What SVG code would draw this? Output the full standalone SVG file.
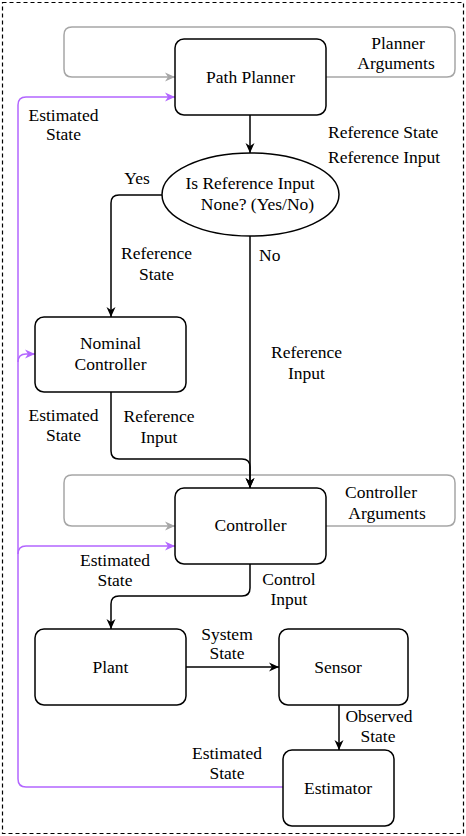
<svg xmlns="http://www.w3.org/2000/svg" width="466" height="836" viewBox="0 0 466 836">
<style>
text{font-family:'Liberation Serif','Times New Roman',serif;font-size:17.5px;fill:#000;text-anchor:middle}
.box{fill:#fff;stroke:#000;stroke-width:1.5}
.k{fill:none;stroke:#000;stroke-width:1.5}
.g{fill:none;stroke:#a6a6a6;stroke-width:1.5}
.p{fill:none;stroke:#b266ff;stroke-width:1.5}
</style>
<defs>
<marker id="ak" viewBox="0 0 10 10" refX="10" refY="5" markerWidth="10" markerHeight="10" markerUnits="userSpaceOnUse" orient="auto"><path d="M0,0.5L10,5L0,9.5L3,5z" fill="#000"/></marker>
<marker id="ag" viewBox="0 0 10 10" refX="10" refY="5" markerWidth="10" markerHeight="10" markerUnits="userSpaceOnUse" orient="auto"><path d="M0,0.5L10,5L0,9.5L3,5z" fill="#a6a6a6"/></marker>
<marker id="ap" viewBox="0 0 10 10" refX="10" refY="5" markerWidth="10" markerHeight="10" markerUnits="userSpaceOnUse" orient="auto"><path d="M0,0.5L10,5L0,9.5L3,5z" fill="#b266ff"/></marker>
</defs>
<rect x="2.5" y="2.5" width="461" height="831" fill="#fff" stroke="#000" stroke-width="1.2" stroke-dasharray="4,3"/>
<g id="connectors">
<path class="g" d="M326,77L447,77Q455,77 455,69L455,35Q455,27 447,27L72,27Q64,27 64,35L64,69Q64,77 72,77L175,77" marker-end="url(#ag)"/>
<path class="g" d="M326,526L447,526Q455,526 455,518L455,483Q455,475 447,475L72,475Q64,475 64,483L64,518Q64,526 72,526L175,526" marker-end="url(#ag)"/>
<path class="p" d="M283,787L26,787Q18,787 18,779L18,105Q18,97 26,97L175,97" marker-end="url(#ap)"/>
<path class="p" d="M18,554Q18,546 26,546L175,546" marker-end="url(#ap)"/>
<path class="p" d="M18,362Q18,354 26,354L35,354" marker-end="url(#ap)"/>
<path class="k" d="M250,115L250,153" marker-end="url(#ak)"/>
<path class="k" d="M162,195L119,195Q111,195 111,203L111,317" marker-end="url(#ak)"/>
<path class="k" d="M250,236L250,488" marker-end="url(#ak)"/>
<path class="k" d="M111,392L111,451Q111,459 119,459L242,459Q250,459 250,467L250,488" marker-end="url(#ak)"/>
<path class="k" d="M250,564L250,588Q250,596 242,596L119,596Q111,596 111,604L111,629" marker-end="url(#ak)"/>
<path class="k" d="M186,667L279,667" marker-end="url(#ak)"/>
<path class="k" d="M339,705L339,750" marker-end="url(#ak)"/>
</g>
<g id="labels">
<text x="398" y="49">Planner</text><text x="396" y="69">Arguments</text>
<text x="63.5" y="121">Estimated</text><text x="63.5" y="140">State</text>
<text x="328" y="138" style="text-anchor:start">Reference State</text>
<text x="328" y="163" style="text-anchor:start">Reference Input</text>
<text x="137" y="184">Yes</text>
<text x="156.5" y="259">Reference</text><text x="156.5" y="280">State</text>
<text x="259" y="261" style="text-anchor:start">No</text>
<text x="306.5" y="358">Reference</text><text x="306.5" y="379">Input</text>
<text x="63.5" y="421">Estimated</text><text x="63.5" y="441">State</text>
<text x="159" y="422">Reference</text><text x="159" y="443">Input</text>
<text x="381" y="498">Controller</text><text x="387" y="519">Arguments</text>
<text x="115" y="566">Estimated</text><text x="115" y="586">State</text>
<text x="289" y="585">Control</text><text x="289" y="605">Input</text>
<text x="227" y="640">System</text><text x="227" y="659">State</text>
<text x="379" y="722">Observed</text><text x="378" y="742">State</text>
<text x="227" y="759">Estimated</text><text x="227" y="779">State</text>
</g>
<g id="path-planner"><rect class="box" x="175" y="39" width="151" height="76" rx="9"/><text x="250.5" y="83">Path Planner</text></g>
<g id="decision"><ellipse class="box" cx="250.5" cy="194.5" rx="88.5" ry="41.5"/><text x="250" y="189">Is Reference Input</text><text x="257.5" y="210">None? (Yes/No)</text></g>
<g id="nominal-controller"><rect class="box" x="35" y="317" width="151" height="75" rx="9"/><text x="110.5" y="349">Nominal</text><text x="110.5" y="370">Controller</text></g>
<g id="controller"><rect class="box" x="175" y="488" width="151" height="76" rx="9"/><text x="250.5" y="531">Controller</text></g>
<g id="plant"><rect class="box" x="35" y="629" width="151" height="76" rx="9"/><text x="110.5" y="673">Plant</text></g>
<g id="sensor"><rect class="box" x="279" y="629" width="129" height="76" rx="9"/><text x="338" y="673">Sensor</text></g>
<g id="estimator"><rect class="box" x="283" y="750" width="111" height="76" rx="9"/><text x="338" y="794">Estimator</text></g>
</svg>
